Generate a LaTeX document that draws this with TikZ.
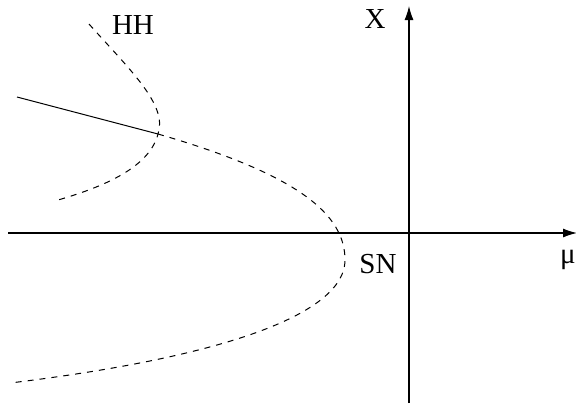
\documentclass[tikz,border=0pt]{standalone}
\usepackage{fontspec}
\setmainfont{Liberation Serif}
\usepackage{tikz}
\usetikzlibrary{arrows.meta}

\begin{document}
\begin{tikzpicture}[x=0.5pt,y=-0.5pt,
  axis/.style={line width=0.6pt,-{Latex[length=7pt,width=4.5pt]}},
  unstable/.style={line width=0.5pt,dash pattern=on 3pt off 3pt},
  stable/.style={line width=0.5pt},
  lbl/.style={anchor=base,inner sep=0pt,font=\fontsize{14.5}{17}\selectfont}]
\useasboundingbox (0,0) rectangle (576,403);
% axes
\coordinate (xl) at (8,233);
\coordinate (xr) at (577,233);
\coordinate (yb) at (409,403);
\coordinate (yt) at (409,6);
\draw[axis] (xl) -- (xr);
\draw[axis] (yb) -- (yt);
\node[lbl] (mu) at (568,263) {μ};
\node[lbl] (X) at (375,28) {X};
% branches
\coordinate (hopf) at (158,134);
\coordinate (sn) at (345,260);
\draw[stable] (17,97) -- (hopf);
\draw[unstable] (hopf) .. controls (300,175) and (345,215) .. (sn)
  .. controls (345,310) and (240,355) .. (10,383);
\draw[unstable] (89,24) .. controls (130,70) and (168,105) .. (hopf)
  .. controls (150,165) and (110,185) .. (58,200);
\node[lbl] (HH) at (133,34) {HH};
\node[lbl] (SN) at (378,273) {SN};
\end{tikzpicture}
\end{document}
